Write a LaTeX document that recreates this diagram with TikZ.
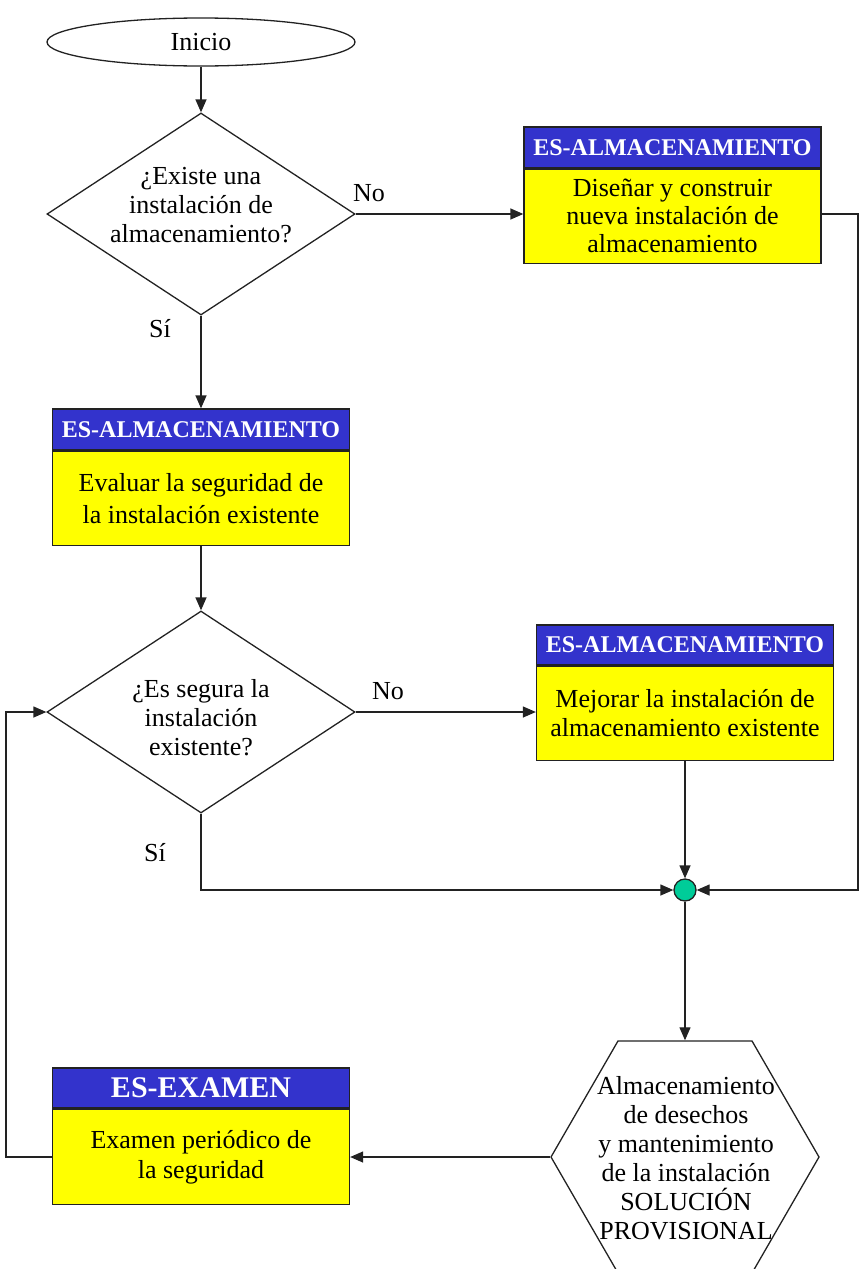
\documentclass[tikz,border=0pt]{standalone}
\usepackage{fontspec}
\setmainfont{Liberation Serif}
\usetikzlibrary{shapes.geometric,arrows.meta}
\definecolor{hdrblue}{HTML}{3333CC}
\definecolor{bodyyellow}{HTML}{FFFF00}
\definecolor{jgreen}{HTML}{00CC99}
\definecolor{edge}{HTML}{222222}
\begin{document}
\begin{tikzpicture}[x=1pt,y=-1pt,
  line width=1.3pt, draw=edge,
  every node/.style={font=\fontsize{26}{29}\selectfont, align=center, inner sep=0pt},
  arr/.style={draw=edge, line width=1.3pt, -{Triangle[length=13pt,width=11pt]}},
  ln/.style={draw=edge, line width=1.3pt},
  hdr/.style={draw=edge, fill=hdrblue, text=white, minimum width=297pt, font=\fontsize{24}{26}\selectfont\bfseries},
  bodybox/.style={draw=edge, fill=bodyyellow, minimum width=297pt},
  dia/.style={draw=edge, diamond, minimum width=308pt, minimum height=202pt},
  lbl/.style={font=\fontsize{26}{29}\selectfont}
]
\useasboundingbox (0,0) rectangle (860,1269);
\begin{scope}
\clip (0,0) rectangle (860,1269);

% start
\node[draw=edge, ellipse, minimum width=308pt, minimum height=48pt] (ini) at (201,42) {Inicio};

% decision 1
\node[dia] (d1) at (201,214) {};
\node (d1t) at (201,205) {¿Existe una\\instalación de\\almacenamiento?};

% box 1 (right top)
\node[hdr, minimum height=41pt] (b1h) at (672.5,147.5) {ES-ALMACENAMIENTO};
\node[bodybox, minimum height=94pt, anchor=north, font=\fontsize{26}{28}\selectfont] (b1b) at (b1h.south) {Diseñar y construir\\nueva instalación de\\almacenamiento};

% box 2
\node[hdr, minimum height=41pt] (b2h) at (201,429.5) {ES-ALMACENAMIENTO};
\node[bodybox, minimum height=94pt, anchor=north, font=\fontsize{26}{32}\selectfont] (b2b) at (b2h.south) {Evaluar la seguridad de\\la instalación existente};

% decision 2
\node[dia] (d2) at (201,712) {};
\node (d2t) at (201,718) {¿Es segura la\\instalación\\existente?};

% box 3
\node[hdr, minimum height=40pt] (b3h) at (685,645) {ES-ALMACENAMIENTO};
\node[bodybox, minimum height=94pt, anchor=north] (b3b) at (b3h.south) {Mejorar la instalación de\\almacenamiento existente};

% junction
\node[draw=edge, fill=jgreen, circle, minimum size=22pt] (j) at (685,890) {};

% hexagon
\node[draw=edge, regular polygon, regular polygon sides=6, minimum size=268pt] (hx) at (685,1157) {};
\node (hxt) at (686,1158) {Almacenamiento\\de desechos\\y mantenimiento\\de la instalación\\SOLUCIÓN\\PROVISIONAL};

% box 4
\node[hdr, minimum height=40pt, font=\fontsize{30}{32}\selectfont\bfseries] (b4h) at (201,1088) {ES-EXAMEN};
\node[bodybox, minimum height=95pt, anchor=north, font=\fontsize{26}{30}\selectfont] (b4b) at (b4h.south) {Examen periódico de\\la seguridad};

% labels
\node[lbl] (no1) at (369,193) {No};
\node[lbl] (si1) at (160,329) {Sí};
\node[lbl] (no2) at (388,691) {No};
\node[lbl] (si2) at (155,853) {Sí};

% helper coordinates
\coordinate (rc) at (858,890);
\coordinate (sc) at (201,890);
\coordinate (lc) at (6,1157);

% connectors
\draw[arr] (ini.south) -- (d1.north);
\draw[arr] (d1.east) -- (d1.east -| b1b.west);
\draw[arr] (b1b.east |- d1.east) -| (rc) -- (j.east);
\draw[arr] (d1.south) -- (b2h.north);
\draw[arr] (b2b.south) -- (d2.north);
\draw[arr] (d2.east) -- (d2.east -| b3b.west);
\draw[arr] (d2.south) -- (sc) -- (j.west);
\draw[arr] (b3b.south) -- (j.north);
\draw[arr] (j.south) -- (hx.north);
\draw[arr] (hx.west) -- (hx.west -| b4b.east);
\draw[arr] (b4b.west |- lc) -- (lc) |- (d2.west);
\end{scope}
\end{tikzpicture}
\end{document}
